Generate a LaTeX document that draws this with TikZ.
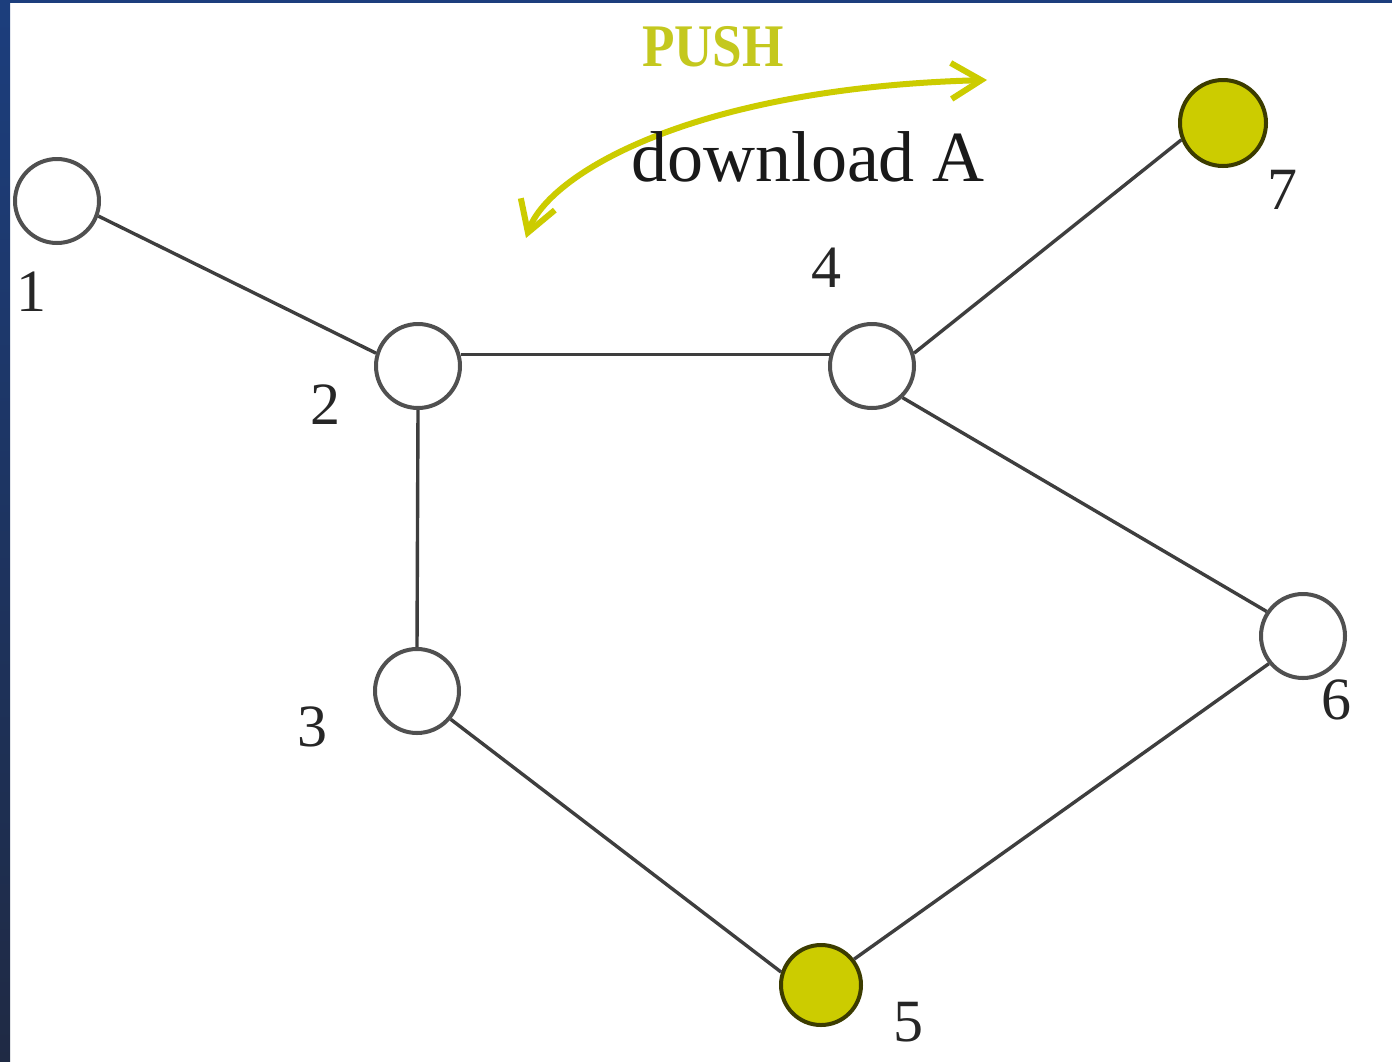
\documentclass[tikz,border=0pt]{standalone}
\usepackage{fontspec}
\setmainfont{Liberation Serif}
\usetikzlibrary{arrows.meta}
\definecolor{navy}{RGB}{31,42,68}
\definecolor{frameblue}{RGB}{28,62,125}
\definecolor{pushyellow}{RGB}{204,204,0}
\definecolor{pushtext}{RGB}{196,200,30}
\definecolor{edgegray}{RGB}{62,62,62}
\definecolor{rimgray}{RGB}{80,80,80}
\definecolor{seedrim}{RGB}{60,60,0}
\begin{document}
\begin{tikzpicture}[x=0.5pt,y=-0.5pt,
  peer/.style={circle,draw=rimgray,line width=2pt,fill=white,minimum size=42pt,inner sep=0pt},
  seed/.style={peer,fill=pushyellow,draw=seedrim},
  link/.style={draw=edgegray,line width=1.7pt},
  num/.style={font=\fontsize{30}{30}\selectfont,inner sep=0pt,text=black!85},
  barbtip/.tip={Straight Barb[length=15pt,width=18pt]}
]
% page and frame
\useasboundingbox (0,0) rectangle (1392,1061);
\fill[white] (0,0) rectangle (1392,1061);
\shade[top color=frameblue, bottom color=navy] (0,0) rectangle (10,1061);
\fill[frameblue] (0,0) rectangle (1392,3);

% peers
\node[peer] (n1) at (57,201) {};
\node[peer] (n2) at (418,366) {};
\node[peer] (n3) at (417,691) {};
\node[peer] (n4) at (872,366) {};
\node[seed,minimum size=40pt] (n5) at (821,985) {};
\node[peer] (n6) at (1303,636) {};
\node[seed,minimum size=43pt] (n7) at (1223,123) {};

% links
\draw[link] (n1.-20) -- (n2.163);
\draw[link] (n2.15) -- (n4.165);
\draw[link] (n2.south) -- (n3.north);
\draw[link] (n4.17) -- (n7.202);
\draw[link] (n4.-46) -- (n6.146);
\draw[link] (n3.-40) -- (n5.162);
\draw[link] (n6.219) -- (n5.38);

% peer numbers
\node[num] (l1) at (32,292) {1};
\node[num] (l2) at (325,405) {2};
\node[num] (l3) at (312,727) {3};
\node[num] (l4) at (826,268) {4};
\node[num] (l5) at (908,1022) {5};
\node[num] (l6) at (1336,700) {6};
\node[num] (l7) at (1282,190) {7};

% push arrow
\coordinate (pushfrom) at (526,238);
\coordinate (pushto) at (987,80);
\draw[pushyellow,line width=3pt,barbtip-barbtip]
  (pushfrom) .. controls (548,175) and (690,88) .. (pushto);
\node[font=\fontsize{28}{28}\selectfont\bfseries,text=pushtext,inner sep=0pt,xscale=0.95,yscale=1.08] (push) at (713,47) {PUSH};
\node[font=\fontsize{36}{36}\selectfont,inner sep=0pt,text=black!90] (dl) at (808,157) {download A};
\end{tikzpicture}
\end{document}
